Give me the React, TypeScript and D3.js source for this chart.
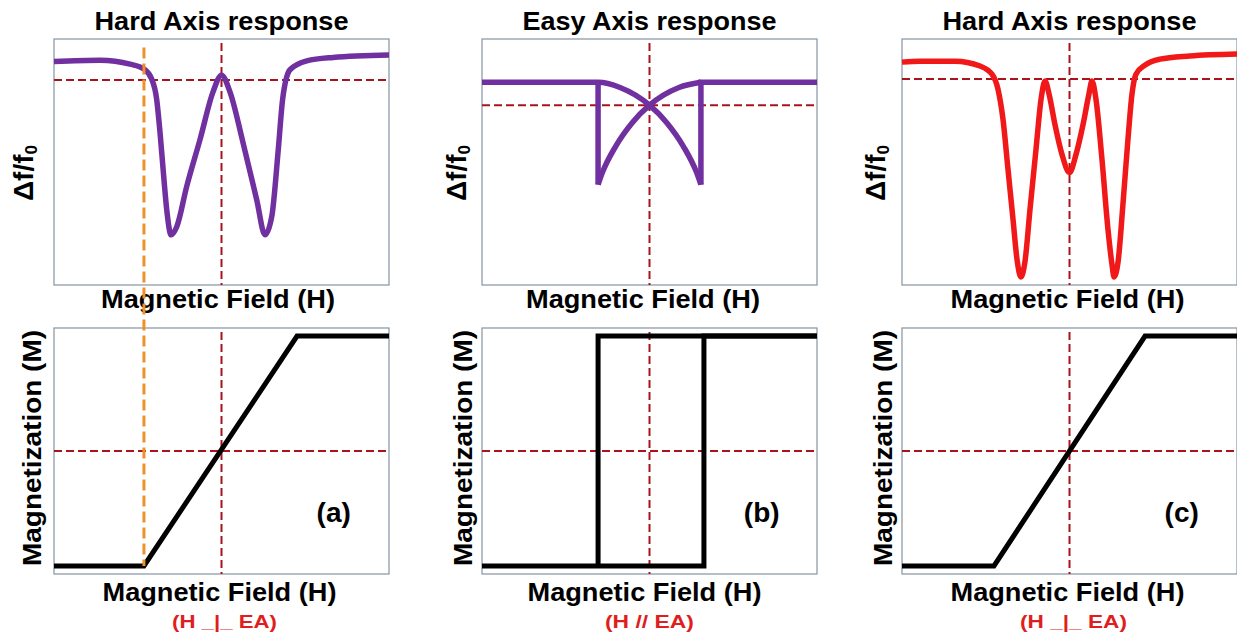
import React from 'react';
import * as d3 from 'd3';

type Pt = [number, number];

// field H runs -100..100 in every panel, response 0..100, magnetization -1..1

// (a) hard axis resonance
const hardResponseA: Pt[] = [
  [-100, 90.9], [-72.5, 91.4], [-54.6, 89.8], [-46.3, 87.8], [-41.7, 83.7],
  [-38.7, 75.5], [-36.7, 62.0], [-34.7, 45.7], [-32.7, 30.6], [-30.1, 20.4],
  [-26.7, 23.7], [-20.8, 40.0], [-12.8, 59.2], [-5.1, 78.4], [0, 85.3],
  [5.1, 78.4], [12.8, 58.0], [21.0, 34.7], [26.0, 20.4], [30.0, 27.8],
  [33.9, 55.1], [36.5, 75.5], [40.9, 87.5], [50.9, 91.1], [66.6, 92.5], [100, 93.5],
];

// (c) hard axis resonance with central dip
const hardResponseC: Pt[] = [
  [-100, 90.6], [-89.3, 91.0], [-68.4, 91.0], [-53.4, 89.0], [-46.3, 85.7],
  [-42.7, 79.6], [-39.7, 67.3], [-36.7, 46.9], [-33.7, 26.5], [-31.3, 10.2],
  [-29.0, 3.3], [-26.6, 9.4], [-23.6, 30.6], [-20.0, 55.1], [-17.0, 75.5],
  [-14.6, 82.9], [-12.2, 77.6], [-8.7, 65.3], [-4.5, 53.1], [0, 45.7],
  [3.9, 53.1], [8.1, 65.3], [11.6, 77.6], [13.4, 82.9], [15.8, 75.5],
  [19.4, 51.0], [23.0, 22.4], [25.4, 8.2], [26.6, 3.3], [29.0, 9.4],
  [31.9, 32.7], [34.9, 59.2], [37.3, 77.6], [39.7, 85.7], [45.1, 89.4],
  [54.0, 91.8], [71.9, 93.1], [100, 93.9],
];

// (b) easy axis: two sweep branches and their jumps
const easyUpSweep: Pt[] = [
  [-100, 82.4], [-30.7, 82.4], [-17.6, 80.3], [0, 73.1], [10.3, 66.0],
  [20.2, 56.4], [28.2, 45.6], [30.7, 40.8],
];
const easyUpJump: Pt[] = [[30.7, 40.8], [30.7, 82.4], [100, 82.4]];
const easyDownSweep: Pt[] = [
  [-30.7, 40.8], [-28.2, 45.6], [-20.2, 56.4], [-10.3, 66.0], [0, 73.1],
  [17.6, 80.3], [30.7, 82.4],
];
const easyDownJump: Pt[] = [[-30.7, 40.8], [-30.7, 82.4]];

// magnetization loops
const hardLoopA: Pt[] = [[-100, -1], [-46.3, -1], [45.1, 1], [100, 1]];
const easyLoopUp: Pt[] = [[-100, -1], [32.5, -1], [32.5, 1], [100, 1]];
const easyLoopDown: Pt[] = [[100, 1], [-30.7, 1], [-30.7, -1]];
const hardLoopC: Pt[] = [[-100, -1], [-45.1, -1], [45.1, 1], [100, 1]];

const responseRef = [83.3, 73.1, 83.7];
const hardSwitchA = -46.3;

const titles = ['Hard Axis response', 'Easy Axis response', 'Hard Axis response'];
const tags = ['(a)', '(b)', '(c)'];
const orientations = ['(H _|_ EA)', '(H // EA)', '(H _|_ EA)'];

const W = 1237;
const HGT = 635;
const lefts = [54, 482, 902];
const frameW = 335;
const topBox = [39, 285];
const botBox = [328, 574];
const font = '"Liberation Sans", Arial, Helvetica, sans-serif';

const xLabelShiftTop = [-3.5, -6.5, -2];
const xLabelShiftBot = [-2, -5, -2];
const redShift = [3, 0, 4];
const redLen = [105, 89, 107];
const dfOffset = [21, 16, 17];
const magOffset = [13, 10, 10];

const PURPLE = '#7030a0';
const RED = '#f01818';
const REFRED = '#a8141c';

function Panel({ i }: { i: number }) {
  const left = lefts[i];
  const x = d3.scaleLinear().domain([-100, 100]).range([left, left + frameW]);
  const yR = d3.scaleLinear().domain([0, 100]).range([topBox[1], topBox[0]]);
  const yM = d3.scaleLinear().domain([-1.07, 1.07]).range([botBox[1], botBox[0]]);

  const smooth = d3.line<Pt>().x(d => x(d[0])).y(d => yR(d[1])).curve(d3.curveMonotoneX);
  const straightR = d3.line<Pt>().x(d => x(d[0])).y(d => yR(d[1]));
  const straightM = d3.line<Pt>().x(d => x(d[0])).y(d => yM(d[1]));

  const cx = x(0);
  const ref = { stroke: REFRED, strokeWidth: 2, strokeDasharray: '8 4', fill: 'none' };
  const curve = { fill: 'none', strokeWidth: 5.5, strokeLinejoin: 'round' as const };

  let response: React.ReactNode;
  let loop: React.ReactNode;
  if (i === 0) {
    response = <path d={smooth(hardResponseA) || ''} stroke={PURPLE} {...curve} />;
    loop = <path d={straightM(hardLoopA) || ''} stroke="#000" fill="none" strokeWidth={5} />;
  } else if (i === 1) {
    response = (
      <g stroke={PURPLE} {...curve} strokeLinejoin="miter">
        <path d={smooth(easyUpSweep) || ''} />
        <path d={straightR(easyUpJump) || ''} />
        <path d={smooth(easyDownSweep) || ''} />
        <path d={straightR(easyDownJump) || ''} />
      </g>
    );
    loop = (
      <g stroke="#000" fill="none" strokeWidth={5}>
        <path d={straightM(easyLoopUp) || ''} />
        <path d={straightM(easyLoopDown) || ''} />
      </g>
    );
  } else {
    response = <path d={smooth(hardResponseC) || ''} stroke={RED} {...curve} />;
    loop = <path d={straightM(hardLoopC) || ''} stroke="#000" fill="none" strokeWidth={5} />;
  }

  return (
    <g fontFamily={font} fontWeight="bold">
      <rect x={left} y={topBox[0]} width={frameW} height={topBox[1] - topBox[0]}
        fill="#fff" stroke="#8593a3" strokeWidth={1.2} />
      <rect x={left} y={botBox[0]} width={frameW} height={botBox[1] - botBox[0]}
        fill="#fff" stroke="#8593a3" strokeWidth={1.2} />

      <line x1={cx} x2={cx} y1={topBox[0] + 4} y2={topBox[1]} {...ref} />
      <line x1={x(-100)} x2={x(100)} y1={yR(responseRef[i])} y2={yR(responseRef[i])} {...ref} />
      <line x1={cx} x2={cx} y1={botBox[0] + 4} y2={botBox[1]} {...ref} />
      <line x1={x(-100)} x2={x(100)} y1={yM(0)} y2={yM(0)} {...ref} />

      {response}
      {loop}

      <text x={cx} y={29.5} textAnchor="middle" fontSize={25}
        textLength={254} lengthAdjust="spacingAndGlyphs">{titles[i]}</text>
      <text x={cx + xLabelShiftTop[i]} y={308} textAnchor="middle" fontSize={25}
        textLength={234} lengthAdjust="spacingAndGlyphs">Magnetic Field (H)</text>
      <text x={cx + xLabelShiftBot[i]} y={601} textAnchor="middle" fontSize={25}
        textLength={234} lengthAdjust="spacingAndGlyphs">Magnetic Field (H)</text>
      <text x={cx + redShift[i]} y={628} textAnchor="middle" fontSize={19} fill="#e01e1e"
        textLength={redLen[i]} lengthAdjust="spacingAndGlyphs">{orientations[i]}</text>
      <text x={x(67)} y={yM(-0.62)} textAnchor="middle" fontSize={28}>{tags[i]}</text>

      <text transform={`translate(${left - dfOffset[i]},${173}) rotate(-90)`}
        textAnchor="middle" fontSize={28}>
        Δf/f<tspan fontSize={17} dy={4}>0</tspan>
      </text>
      <text transform={`translate(${left - magOffset[i]},${448}) rotate(-90)`}
        textAnchor="middle" fontSize={26} textLength={236} lengthAdjust="spacingAndGlyphs">
        Magnetization (M)
      </text>
    </g>
  );
}

export default function App() {
  const xA = d3.scaleLinear().domain([-100, 100]).range([lefts[0], lefts[0] + frameW]);
  const yR = d3.scaleLinear().domain([0, 100]).range([topBox[1], topBox[0]]);
  const yM = d3.scaleLinear().domain([-1.07, 1.07]).range([botBox[1], botBox[0]]);
  const sx = xA(hardSwitchA);

  return (
    <svg width={W} height={HGT} style={{ position: 'absolute', left: 0, top: 0, background: '#fff' }}>
      {[0, 1, 2].map(i => <Panel key={i} i={i} />)}
      {/* hard axis switching field marker across both (a) plots */}
      <line x1={sx} x2={sx} y1={yR(96.5)} y2={yM(-1)} stroke="#f0902a"
        strokeWidth={3} strokeDasharray="11 5" />
    </svg>
  );
}
